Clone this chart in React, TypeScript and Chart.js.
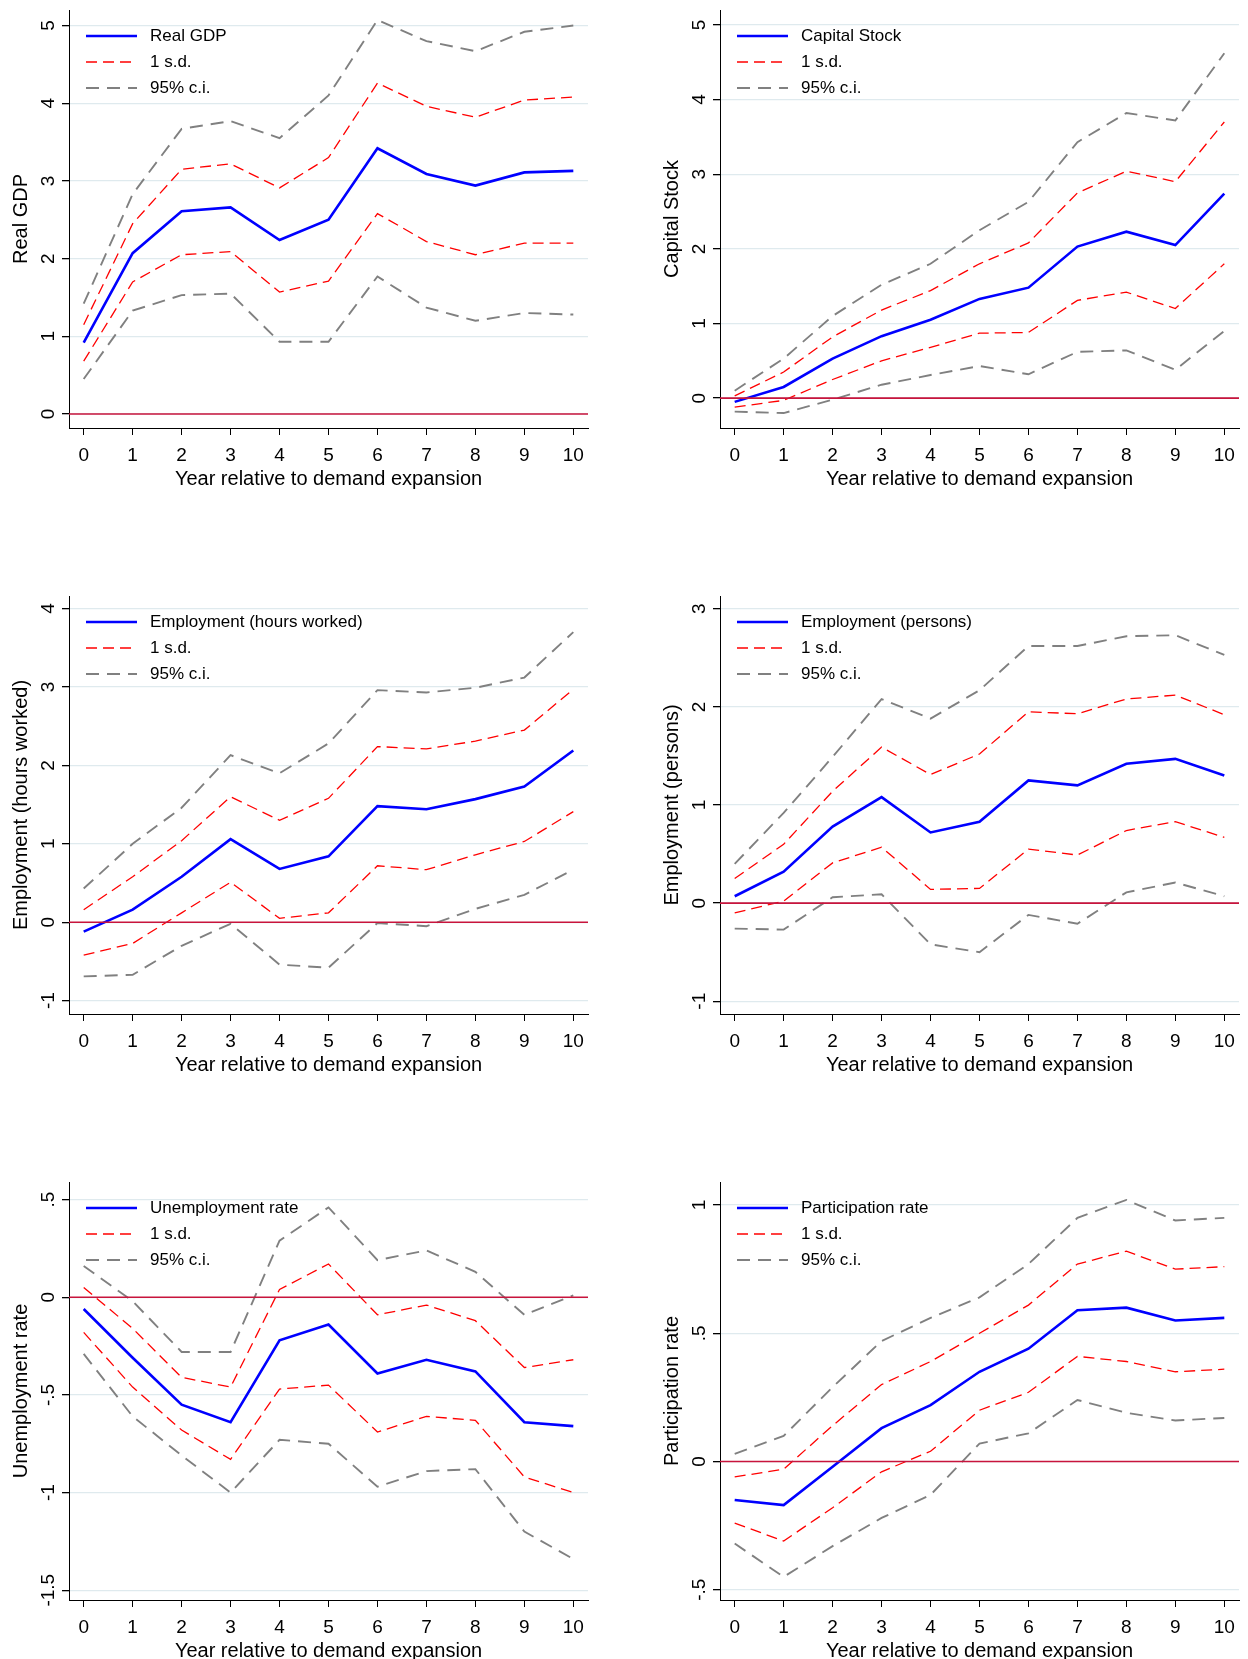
import { useEffect, useRef } from "react"
import { Chart, registerables } from "chart.js"

Chart.register(...registerables)

const years = [0, 1, 2, 3, 4, 5, 6, 7, 8, 9, 10]

const gdp = [0.92, 2.07, 2.61, 2.66, 2.24, 2.5, 3.42, 3.09, 2.94, 3.11, 3.13]
const gdpUp1 = [1.15, 2.45, 3.15, 3.22, 2.91, 3.3, 4.26, 3.96, 3.82, 4.04, 4.08]
const gdpLo1 = [0.68, 1.7, 2.05, 2.09, 1.57, 1.71, 2.58, 2.22, 2.05, 2.2, 2.2]
const gdpUp95 = [1.42, 2.83, 3.67, 3.77, 3.55, 4.1, 5.07, 4.8, 4.67, 4.92, 5.0]
const gdpLo95 = [0.45, 1.33, 1.53, 1.55, 0.93, 0.93, 1.77, 1.37, 1.2, 1.3, 1.28]

const cap = [-0.05, 0.15, 0.53, 0.83, 1.05, 1.33, 1.48, 2.03, 2.23, 2.05, 2.74]
const capUp1 = [0.03, 0.35, 0.82, 1.18, 1.44, 1.8, 2.08, 2.75, 3.04, 2.9, 3.7]
const capLo1 = [-0.12, -0.03, 0.25, 0.5, 0.68, 0.87, 0.88, 1.31, 1.42, 1.2, 1.8]
const capUp95 = [0.1, 0.53, 1.1, 1.52, 1.8, 2.25, 2.63, 3.43, 3.82, 3.72, 4.62]
const capLo95 = [-0.18, -0.2, -0.02, 0.18, 0.31, 0.43, 0.32, 0.62, 0.64, 0.38, 0.9]

const hours = [-0.12, 0.16, 0.58, 1.06, 0.68, 0.84, 1.48, 1.44, 1.57, 1.73, 2.19]
const hoursUp1 = [0.16, 0.58, 1.04, 1.6, 1.3, 1.58, 2.24, 2.21, 2.31, 2.45, 2.97]
const hoursLo1 = [-0.42, -0.27, 0.12, 0.51, 0.05, 0.12, 0.72, 0.67, 0.86, 1.03, 1.41]
const hoursUp95 = [0.43, 1.0, 1.46, 2.13, 1.9, 2.28, 2.96, 2.93, 2.99, 3.12, 3.7]
const hoursLo95 = [-0.69, -0.67, -0.3, -0.02, -0.54, -0.58, -0.01, -0.05, 0.17, 0.35, 0.67]

const persons = [0.07, 0.32, 0.78, 1.08, 0.72, 0.83, 1.25, 1.2, 1.42, 1.47, 1.3]
const personsUp1 = [0.25, 0.6, 1.14, 1.59, 1.31, 1.52, 1.95, 1.93, 2.08, 2.12, 1.92]
const personsLo1 = [-0.1, 0.02, 0.41, 0.57, 0.14, 0.15, 0.55, 0.49, 0.74, 0.83, 0.67]
const personsUp95 = [0.4, 0.92, 1.49, 2.08, 1.88, 2.17, 2.62, 2.62, 2.72, 2.73, 2.53]
const personsLo95 = [-0.26, -0.27, 0.06, 0.09, -0.42, -0.5, -0.12, -0.21, 0.11, 0.21, 0.07]

const unemp = [-0.06, -0.31, -0.55, -0.64, -0.22, -0.14, -0.39, -0.32, -0.38, -0.64, -0.66]
const unempUp1 = [0.05, -0.16, -0.41, -0.46, 0.04, 0.17, -0.09, -0.04, -0.12, -0.36, -0.32]
const unempLo1 = [-0.18, -0.46, -0.68, -0.83, -0.47, -0.45, -0.69, -0.61, -0.63, -0.92, -1.0]
const unempUp95 = [0.16, -0.02, -0.28, -0.28, 0.29, 0.46, 0.19, 0.24, 0.13, -0.09, 0.01]
const unempLo95 = [-0.29, -0.61, -0.81, -1.0, -0.73, -0.75, -0.97, -0.89, -0.88, -1.2, -1.34]

const part = [-0.15, -0.17, -0.02, 0.13, 0.22, 0.35, 0.44, 0.59, 0.6, 0.55, 0.56]
const partUp1 = [-0.06, -0.03, 0.14, 0.3, 0.39, 0.5, 0.61, 0.77, 0.82, 0.75, 0.76]
const partLo1 = [-0.24, -0.31, -0.18, -0.04, 0.04, 0.2, 0.27, 0.41, 0.39, 0.35, 0.36]
const partUp95 = [0.03, 0.1, 0.29, 0.47, 0.56, 0.64, 0.77, 0.95, 1.02, 0.94, 0.95]
const partLo95 = [-0.32, -0.45, -0.33, -0.22, -0.13, 0.07, 0.11, 0.24, 0.19, 0.16, 0.17]

const ticks0to5 = [0, 1, 2, 3, 4, 5]
const ticksHours = [-1, 0, 1, 2, 3, 4]
const ticksPersons = [-1, 0, 1, 2, 3]
const ticksUnemp = [-1.5, -1, -0.5, 0, 0.5]
const ticksPart = [-0.5, 0, 0.5, 1]

const fmt = (v: number) => {
  const s = String(v)
  return s.replace(/^0\./, ".").replace(/^-0\./, "-.")
}

const FONT = "'Liberation Sans', Arial, sans-serif"

type PanelProps = {
  title: string
  main: number[]
  up1: number[]
  lo1: number[]
  up95: number[]
  lo95: number[]
  yTicks: number[]
  min: number
  max: number
}

const overlay = {
  id: "overlay",
  afterDatasetsDraw(chart: any, _a: any, opts: any) {
    const { ctx, chartArea } = chart
    const y = chart.scales.y
    ctx.save()
    const zy = y.getPixelForValue(0)
    ctx.strokeStyle = "#c8143c"
    ctx.lineWidth = 1.6
    ctx.beginPath()
    ctx.moveTo(chartArea.left, zy)
    ctx.lineTo(chartArea.right, zy)
    ctx.stroke()
    const items = [
      { label: opts.title, color: "#0000ff", dash: [], w: 2.6 },
      { label: "1 s.d.", color: "#ff0000", dash: [11, 6], w: 1.3 },
      { label: "95% c.i.", color: "#808080", dash: [13, 8], w: 1.9 },
    ]
    ctx.font = `17px ${FONT}`
    ctx.textBaseline = "middle"
    items.forEach((it, i) => {
      const ly = chartArea.top + 26 + i * 26
      ctx.strokeStyle = it.color
      ctx.lineWidth = it.w
      ctx.setLineDash(it.dash)
      ctx.beginPath()
      ctx.moveTo(chartArea.left + 17, ly)
      ctx.lineTo(chartArea.left + 68, ly)
      ctx.stroke()
      ctx.setLineDash([])
      ctx.fillStyle = "#000"
      ctx.textAlign = "left"
      ctx.fillText(it.label, chartArea.left + 81, ly)
    })
    ctx.restore()
  },
  afterDraw(chart: any, _a: any, opts: any) {
    const { ctx, chartArea } = chart
    const y = chart.scales.y
    ctx.save()
    ctx.fillStyle = "#000"
    ctx.textAlign = "center"
    ctx.textBaseline = "bottom"
    ctx.font = `19px ${FONT}`
    y.ticks.forEach((t: any) => {
      const py = y.getPixelForValue(t.value)
      ctx.save()
      ctx.translate(chartArea.left - 11, py)
      ctx.rotate(-Math.PI / 2)
      ctx.fillText(fmt(t.value), 0, 0)
      ctx.restore()
    })
    ctx.font = `20px ${FONT}`
    ctx.save()
    ctx.translate(chartArea.left - 38, (chartArea.top + chartArea.bottom) / 2)
    ctx.rotate(-Math.PI / 2)
    ctx.fillText(opts.title, 0, 0)
    ctx.restore()
    ctx.restore()
  },
}

function Panel(p: PanelProps) {
  const ref = useRef<HTMLCanvasElement>(null)
  const inst = useRef<Chart | null>(null)

  useEffect(() => {
    const canvas = ref.current
    if (!canvas) return
    if (inst.current) inst.current.destroy()
    const pts = (arr: number[]) => arr.map((v, i) => ({ x: years[i], y: v }))
    const line = (arr: number[], color: string, w: number, dash: number[]) => ({
      data: pts(arr),
      borderColor: color,
      borderWidth: w,
      borderDash: dash,
      pointRadius: 0,
      tension: 0,
      fill: false,
    })
    inst.current = new Chart(canvas, {
      type: "line",
      data: {
        datasets: [
          line(p.up95, "#808080", 1.9, [13, 8]),
          line(p.lo95, "#808080", 1.9, [13, 8]),
          line(p.up1, "#ff0000", 1.3, [11, 6]),
          line(p.lo1, "#ff0000", 1.3, [11, 6]),
          line(p.main, "#0000ff", 2.6, []),
        ] as any,
      },
      options: {
        animation: false,
        responsive: false,
        devicePixelRatio: 1,
        layout: { padding: { left: 14, right: 57, top: 10, bottom: 95 } },
        plugins: {
          legend: { display: false },
          tooltip: { enabled: false },
          overlay: { title: p.title },
        } as any,
        scales: {
          x: {
            type: "linear",
            min: -0.3,
            max: 10.3,
            afterBuildTicks: (s: any) => {
              s.ticks = years.map((v) => ({ value: v }))
            },
            afterFit: (s: any) => {
              s.height = 63
            },
            grid: { drawOnChartArea: false, color: "#000", tickLength: 7, tickColor: "#000" },
            border: { color: "#000", width: 1 },
            ticks: { color: "#000", font: { size: 19, family: FONT }, padding: 9, maxRotation: 0 },
            title: {
              display: true,
              text: "Year relative to demand expansion",
              color: "#000",
              font: { size: 20, family: FONT },
              padding: { top: 0, bottom: 0 },
            },
          },
          y: {
            type: "linear",
            min: p.min,
            max: p.max,
            afterBuildTicks: (s: any) => {
              s.ticks = p.yTicks.map((v) => ({ value: v }))
            },
            afterFit: (s: any) => {
              s.width = 55
            },
            grid: { color: "#dfeaee", lineWidth: 1.3, tickLength: 7, tickColor: "#000" },
            border: { color: "#000", width: 1 },
            ticks: { callback: () => "", font: { size: 1 } },
          },
        },
      },
      plugins: [overlay],
    })
    return () => {
      if (inst.current) inst.current.destroy()
      inst.current = null
    }
  }, [])

  return <canvas ref={ref} width={645} height={586} style={{ display: "block" }} />
}

export default function App() {
  return (
    <div style={{ position: "absolute", left: 0, top: 0, width: 1248, height: 1659, background: "#fff", overflow: "hidden" }}>
      <div style={{ display: "grid", gridTemplateColumns: "651px 597px" }}>
        <Panel title="Real GDP" main={gdp} up1={gdpUp1} lo1={gdpLo1} up95={gdpUp95} lo95={gdpLo95} yTicks={ticks0to5} min={-0.18} max={5.2} />
        <Panel title="Capital Stock" main={cap} up1={capUp1} lo1={capLo1} up95={capUp95} lo95={capLo95} yTicks={ticks0to5} min={-0.4} max={5.2} />
        <Panel title="Employment (hours worked)" main={hours} up1={hoursUp1} lo1={hoursLo1} up95={hoursUp95} lo95={hoursLo95} yTicks={ticksHours} min={-1.17} max={4.16} />
        <Panel title="Employment (persons)" main={persons} up1={personsUp1} lo1={personsLo1} up95={personsUp95} lo95={personsLo95} yTicks={ticksPersons} min={-1.13} max={3.13} />
        <Panel title="Unemployment rate" main={unemp} up1={unempUp1} lo1={unempLo1} up95={unempUp95} lo95={unempLo95} yTicks={ticksUnemp} min={-1.55} max={0.59} />
        <Panel title="Participation rate" main={part} up1={partUp1} lo1={partLo1} up95={partUp95} lo95={partLo95} yTicks={ticksPart} min={-0.54} max={1.09} />
      </div>
    </div>
  )
}
